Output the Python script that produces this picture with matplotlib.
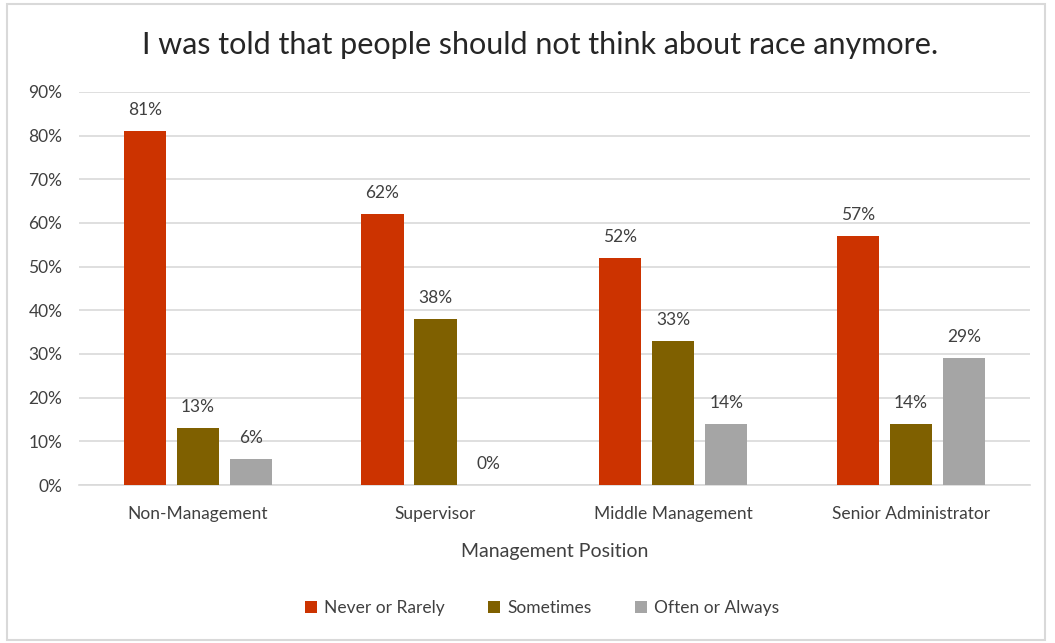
import numpy as np
import matplotlib.pyplot as plt
from matplotlib.patches import Rectangle
from matplotlib.ticker import PercentFormatter

plt.rcParams["font.family"] = ["Lato", "DejaVu Sans"]

positions = ["Non-Management", "Supervisor", "Middle Management", "Senior Administrator"]
responses = ["Never or Rarely", "Sometimes", "Often or Always"]
never_rarely = [81, 62, 52, 57]
sometimes = [13, 38, 33, 14]
often_always = [6, 0, 14, 29]

colors = ["#CC3300", "#7F6000", "#A5A5A5"]
series = [never_rarely, sometimes, often_always]

fig = plt.figure(figsize=(10.55, 6.43), dpi=100)
ax = fig.add_axes([0.0749, 0.2457, 0.9011, 0.6113])

# light frame around the whole chart area
fig.patches.append(Rectangle((7 / 1055, 3 / 643), 1038 / 1055, 636 / 643,
                             transform=fig.transFigure, fill=False,
                             edgecolor="#D9D9D9", linewidth=1.5))

x = np.arange(len(positions))
width = 0.177
step = 0.223
for i, (vals, label, c) in enumerate(zip(series, responses, colors)):
    offs = x + (i - 1) * step
    bars = ax.bar(offs, vals, width=width, color=c, label=label, zorder=3)
    for b, v in zip(bars, vals):
        ax.text(b.get_x() + b.get_width() / 2, v + 3.0, f"{v}%",
                ha="center", va="bottom", fontsize=12.5, color="#404040")

ax.set_xlim(-0.5, len(positions) - 0.5)
ax.set_ylim(0, 90)
ax.set_yticks(range(0, 91, 10))
ax.yaxis.set_major_formatter(PercentFormatter(decimals=0))
ax.grid(axis="y", color="#D9D9D9", linewidth=1.2, zorder=0)
for s in ["top", "right", "left"]:
    ax.spines[s].set_visible(False)
ax.spines["bottom"].set_color("#D9D9D9")
ax.spines["bottom"].set_linewidth(1.2)
ax.tick_params(axis="both", length=0, labelsize=12.5, labelcolor="#404040")
ax.tick_params(axis="y", pad=12)
ax.tick_params(axis="x", pad=15)
ax.set_xticks(x)
ax.set_xticklabels(positions)
ax.set_xlabel("Management Position", fontsize=14, color="#404040", labelpad=15)

fig.text(0.512, 0.93, "I was told that people should not think about race anymore.",
         ha="center", va="center", fontsize=22, color="#262626")

ax.legend(loc="center", bbox_to_anchor=(0.487, -0.313), ncol=3, frameon=False,
          fontsize=12.5, handlelength=0.7, handleheight=0.7, handletextpad=0.4,
          columnspacing=2.5, labelcolor="#404040")

fig.savefig("out.png", dpi=100)
